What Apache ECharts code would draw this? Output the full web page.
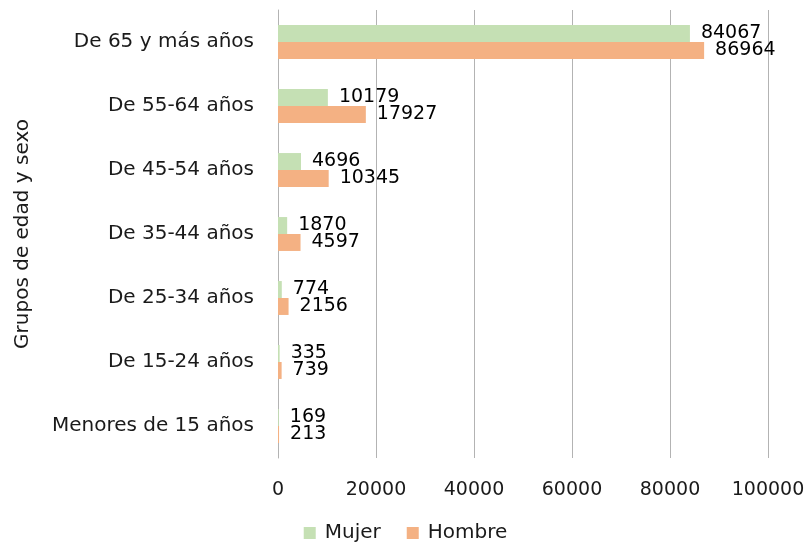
<!DOCTYPE html>
<html>
<head>
<meta charset="utf-8">
<style>
  html, body { margin: 0; padding: 0; background: #ffffff; }
  #chart { width: 811px; height: 548px; }
</style>
<script src="https://cdn.jsdelivr.net/npm/echarts@6/dist/echarts.min.js"></script>
</head>
<body>
<div id="chart"></div>
<script>
// Age groups, bottom to top
const categories = [
  'Menores de 15 años',
  'De 15-24 años',
  'De 25-34 años',
  'De 35-44 años',
  'De 45-54 años',
  'De 55-64 años',
  'De 65 y más años'
];
const mujer = [169, 335, 774, 1870, 4696, 10179, 84067];
const hombre = [213, 739, 2156, 4597, 10345, 17927, 86964];
const seriesNames = ['Mujer', 'Hombre'];
const axisTitle = 'Grupos de edad y sexo';

const FONT = 'DejaVu Sans';
const TEXT = '#1a1a1a';
const chart = echarts.init(document.getElementById('chart'));

const labelStyle = {
  show: true,
  position: 'right',
  distance: 11,
  color: '#000',
  fontFamily: FONT,
  fontSize: 19,
  formatter: (p) => String(p.value)
};

chart.setOption({
  animation: false,
  textStyle: { fontFamily: FONT },
  grid: { left: 278, right: 43, top: 10, bottom: 90, containLabel: false, outerBoundsMode: 'none' },
  legend: {
    data: seriesNames,
    top: 518,
    left: 'center',
    itemWidth: 12,
    itemHeight: 12,
    itemGap: 26,
    icon: 'rect',
    textStyle: { fontFamily: FONT, fontSize: 20, color: TEXT, padding: [0, 0, 0, 4] }
  },
  xAxis: {
    type: 'value',
    min: 0,
    max: 100000,
    interval: 20000,
    axisLine: { show: false },
    axisTick: { show: false },
    axisLabel: { color: TEXT, fontFamily: FONT, fontSize: 19, margin: 23, formatter: (v) => String(v) },
    splitLine: { show: true, lineStyle: { color: '#b3b3b3', width: 1 } }
  },
  yAxis: {
    type: 'category',
    data: categories,
    name: axisTitle,
    nameLocation: 'middle',
    nameGap: 245,
    nameRotate: 90,
    nameTextStyle: { fontFamily: FONT, fontSize: 20, color: TEXT },
    axisLine: { show: true, lineStyle: { color: '#b3b3b3' } },
    axisTick: { show: false },
    axisLabel: { color: TEXT, fontFamily: FONT, fontSize: 20, margin: 24 },
    splitLine: { show: false }
  },
  series: [
    {
      name: 'Mujer',
      type: 'bar',
      data: mujer,
      barGap: '0%',
      barCategoryGap: '47%',
      itemStyle: { color: '#c5e0b4' },
      label: labelStyle
    },
    {
      name: 'Hombre',
      type: 'bar',
      data: hombre,
      barGap: '0%',
      barCategoryGap: '47%',
      itemStyle: { color: '#f4b183' },
      label: labelStyle
    }
  ]
});
</script>
</body>
</html>
